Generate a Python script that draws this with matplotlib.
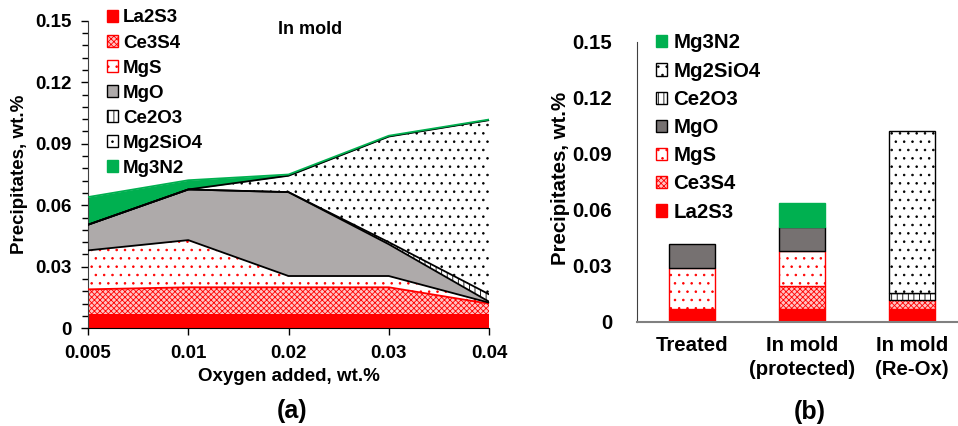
import numpy as np
import matplotlib
matplotlib.use("Agg")
import matplotlib.pyplot as plt
from matplotlib.patches import Patch

plt.rcParams['font.family'] = ['Liberation Sans', 'DejaVu Sans']
plt.rcParams['font.weight'] = 'bold'
plt.rcParams['hatch.linewidth'] = 0.6

# ---------------- data ----------------
oxygen = ["0.005", "0.01", "0.02", "0.03", "0.04"]
phases = ["La2S3", "Ce3S4", "MgS", "MgO", "Ce2O3", "Mg2SiO4", "Mg3N2"]

la2s3   = [0.007, 0.007, 0.007, 0.007, 0.007]
ce3s4   = [0.012, 0.013, 0.013, 0.013, 0.005]
mgs     = [0.019, 0.023, 0.0055, 0.0055, 0.0005]
mgo     = [0.0125, 0.0247, 0.0409, 0.0155, 0.0005]
ce2o3   = [0.0, 0.0, 0.0, 0.001, 0.0036]
mg2sio4 = [0.0, 0.0, 0.008, 0.0515, 0.0849]
mg3n2   = [0.0135, 0.0045, 0.0006, 0.0004, 0.0003]

cases = ["Treated", "In mold\n(protected)", "In mold\n(Re-Ox)"]
b_la2s3   = [0.007, 0.007, 0.007]
b_ce3s4   = [0.0, 0.012, 0.0046]
b_mgs     = [0.0219, 0.019, 0.0]
b_mgo     = [0.0127, 0.0125, 0.0]
b_ce2o3   = [0.0, 0.0, 0.0036]
b_mg2sio4 = [0.0, 0.0, 0.0871]
b_mg3n2   = [0.0, 0.0133, 0.0]

RED = '#FF0000'
GREEN = '#00B050'
GRAY_A = '#AEAAAA'
GRAY_B = '#767171'

# face, hatch colour, hatch, border colour
sty_a = {
    "La2S3":   (RED, RED, None, RED),
    "Ce3S4":   ('#FFC4C4', RED, 'xxxxxx', RED),
    "MgS":     ('white', RED, '..', RED),
    "MgO":     (GRAY_A, 'black', None, 'black'),
    "Ce2O3":   ('white', 'black', '|||', 'black'),
    "Mg2SiO4": ('white', 'black', '..', 'black'),
    "Mg3N2":   (GREEN, GREEN, None, GREEN),
}
sty_b = dict(sty_a)
sty_b["MgO"] = (GRAY_B, 'black', None, 'black')

W, H = 958, 426
fig = plt.figure(figsize=(W / 100, H / 100), dpi=100)

def fx(px):
    return px / W

def fy(py):
    return 1 - py / H

# ============ (a) stacked area ============
ax = fig.add_axes([fx(88), fy(328.3), fx(489 - 88), (328.3 - 20.7) / H])
xs = np.arange(len(oxygen))
series_a = [la2s3, ce3s4, mgs, mgo, ce2o3, mg2sio4, mg3n2]
base = np.zeros(len(oxygen))
tops = []
for name, vals in zip(phases, series_a):
    face, hc, hatch, ec = sty_a[name]
    top = base + np.array(vals)
    ax.fill_between(xs, base, top, facecolor=face, edgecolor=hc, hatch=hatch,
                    linewidth=0, zorder=2)
    tops.append(top)
    base = top
line_cols = [None, RED, 'black', 'black', 'black', 'black', GREEN]
for top, c in zip(tops, line_cols):
    if c is not None:
        ax.plot(xs, top, color=c, lw=1.3, zorder=3)

ax.set_xlim(0, 4)
ax.set_ylim(0, 0.15)
ax.set_xticks(xs)
ax.set_xticklabels(oxygen)
ax.set_yticks([0, 0.03, 0.06, 0.09, 0.12, 0.15])
ax.set_yticklabels(["0", "0.03", "0.06", "0.09", "0.12", "0.15"])
ax.set_yticks(np.arange(0, 0.1501, 0.006), minor=True)
ax.tick_params(axis='both', labelsize=13.5, length=5, width=1, direction='out', pad=7)
ax.tick_params(axis='y', which='minor', length=4, width=1)
for s in ['top', 'right']:
    ax.spines[s].set_visible(False)
ax.spines['left'].set_color('#404040')
ax.spines['bottom'].set_color('black')
ax.spines['bottom'].set_zorder(4)

fig.text(fx(20), fy(174), "Precipitates, wt.%", rotation=90, ha='center', va='center',
         fontsize=13.5, fontweight='bold')
fig.text(fx(288.5), fy(376.7), "Oxygen added, wt.%", ha='center', va='center',
         fontsize=13.5, fontweight='bold')
fig.text(fx(310), fy(30), "In mold", ha='center', va='center', fontsize=13, fontweight='bold')
fig.text(fx(292), fy(411), "(a)", ha='center', va='center', fontsize=18, fontweight='bold')

handles_a = []
for name in phases:
    face, hc, hatch, ec = sty_a[name]
    handles_a.append(Patch(facecolor=face, edgecolor=ec, hatch=hatch, lw=1, label=name))
leg_a = fig.legend(handles=handles_a, loc='upper left', bbox_to_anchor=(fx(107), fy(9.5)),
                   frameon=False, fontsize=13.5, handlelength=0.6, handleheight=0.6,
                   handletextpad=0.25, labelspacing=0.43, borderpad=0, borderaxespad=0)

# ============ (b) stacked bars ============
bx = fig.add_axes([fx(637), fy(321.7), fx(967 - 637), (321.7 - 41.7) / H])
xb = np.arange(len(cases))
series_b = [b_la2s3, b_ce3s4, b_mgs, b_mgo, b_ce2o3, b_mg2sio4, b_mg3n2]
bottom = np.zeros(len(cases))
for name, vals in zip(phases, series_b):
    face, hc, hatch, ec = sty_b[name]
    vals = np.array(vals)
    keep = vals > 0
    bx.bar(xb[keep], vals[keep], 0.42, bottom=bottom[keep], facecolor=face, edgecolor=ec,
           hatch=hatch, linewidth=1, zorder=2)
    bottom = bottom + vals

bx.set_xlim(-0.5, 2.5)
bx.set_ylim(0, 0.15)
bx.set_xticks(xb)
bx.set_xticklabels(cases, linespacing=1.35)
bx.set_yticks([0, 0.03, 0.06, 0.09, 0.12, 0.15])
bx.set_yticklabels(["0", "0.03", "0.06", "0.09", "0.12", "0.15"])
bx.tick_params(axis='both', labelsize=14.7, length=0)
bx.tick_params(axis='y', pad=18)
bx.tick_params(axis='x', pad=10)
for s in ['top', 'right']:
    bx.spines[s].set_visible(False)
bx.spines['left'].set_color('#404040')
bx.spines['bottom'].set_color('#808080')
bx.spines['bottom'].set_linewidth(1.5)

fig.text(fx(561), fy(178), "Precipitates, wt.%", rotation=90, ha='center', va='center',
         fontsize=14.7, fontweight='bold')
fig.text(fx(810), fy(412), "(b)", ha='center', va='center', fontsize=18, fontweight='bold')

handles_b = []
for name in phases[::-1]:
    face, hc, hatch, ec = sty_b[name]
    handles_b.append(Patch(facecolor=face, edgecolor=ec, hatch=hatch, lw=1, label=name))
leg_b = fig.legend(handles=handles_b, loc='upper left', bbox_to_anchor=(fx(656), fy(33.5)),
                   frameon=False, fontsize=14.7, handlelength=0.55, handleheight=0.55,
                   handletextpad=0.3, labelspacing=0.45, borderpad=0, borderaxespad=0)

fig.savefig("out.png", dpi=100)
